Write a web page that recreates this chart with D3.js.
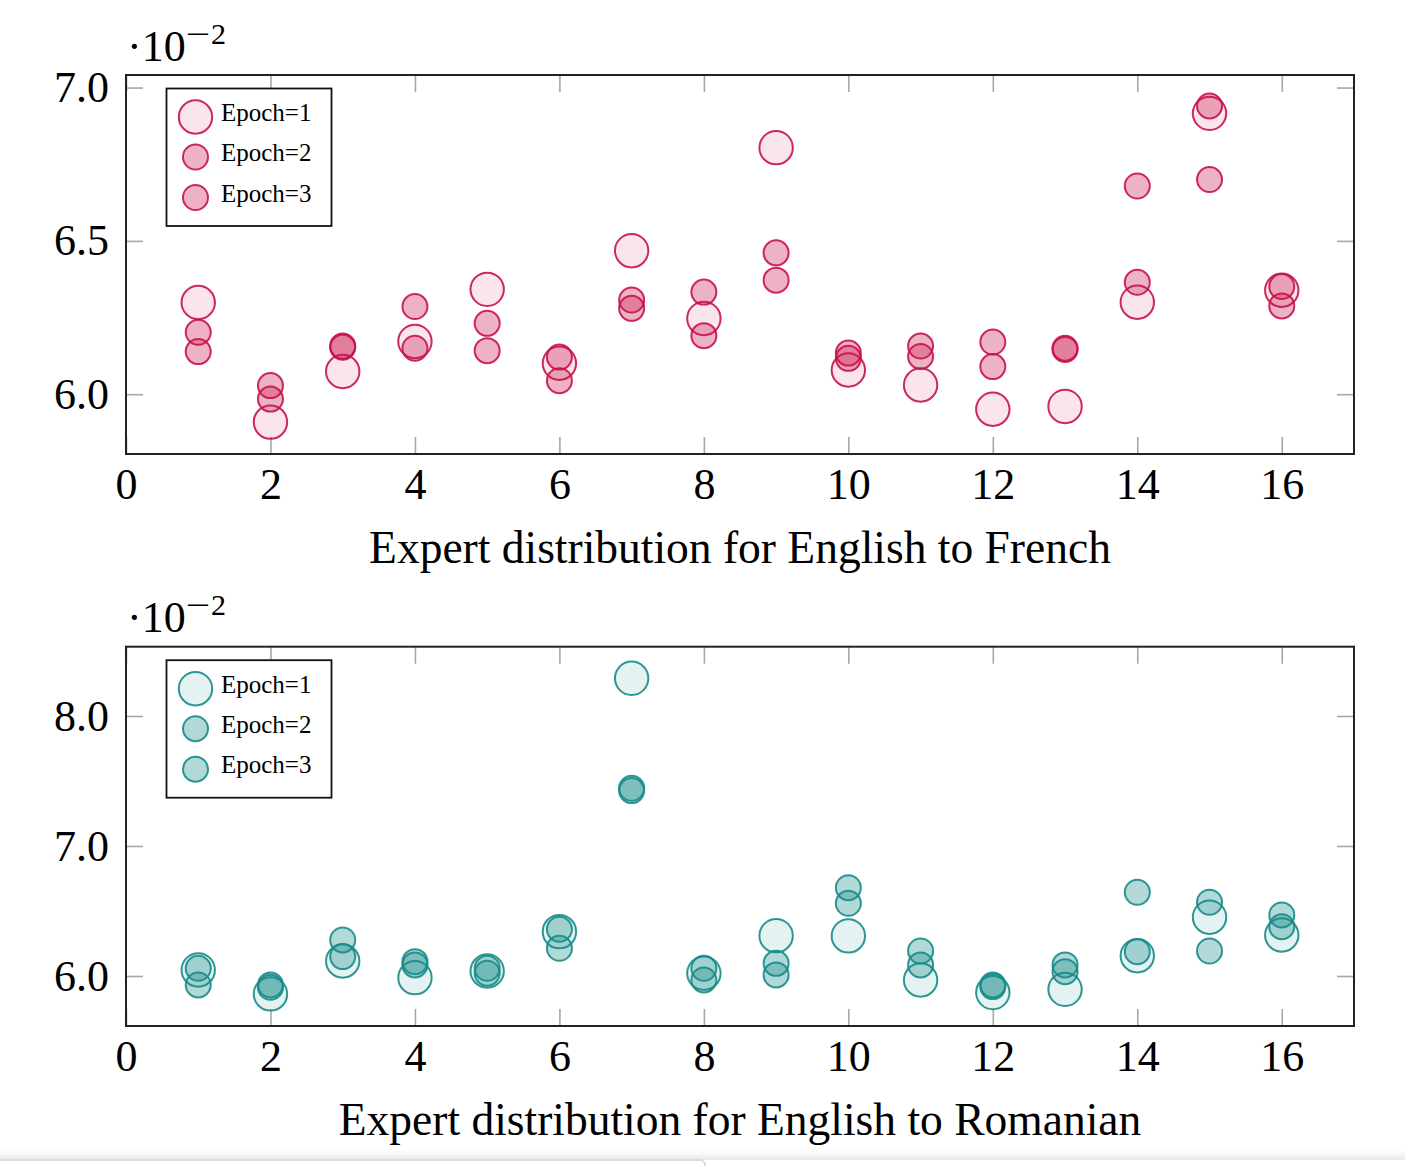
<!DOCTYPE html>
<html>
<head>
<meta charset="utf-8">
<script src="https://cdn.jsdelivr.net/npm/d3@7"></script>
<style>
  html, body { margin: 0; padding: 0; background: #fff; }
  svg { display: block; }
  text { font-family: "Liberation Serif", "Times New Roman", serif; fill: #000; }
</style>
</head>
<body>
<script>
// ---- data (values in units of 1e-2) ----
const experts = [1,2,3,4,5,6,7,8,9,10,11,12,13,14,15,16];
const xTicks = [0,2,4,6,8,10,12,14,16];

const frEpoch1 = [6.299,5.909,6.074,6.172,6.342,6.101,6.468,6.247,6.804,6.079,6.030,5.951,5.960,6.300,6.916,6.339];
const frEpoch2 = [6.202,6.028,6.157,6.286,6.231,6.121,6.307,6.333,6.461,6.134,6.157,6.170,6.150,6.365,6.940,6.351];
const frEpoch3 = [6.139,5.984,6.153,6.150,6.142,6.044,6.280,6.191,6.372,6.117,6.123,6.090,6.146,6.679,6.700,6.288];
const frYTicks = [6.0,6.5,7.0];

const roEpoch1 = [6.046,5.862,6.115,5.987,6.038,6.341,8.290,6.021,6.310,6.308,5.969,5.872,5.897,6.156,6.452,6.315];
const roEpoch2 = [6.059,5.931,6.277,6.110,6.059,6.359,7.444,6.059,6.097,6.679,6.192,5.931,6.085,6.187,6.567,6.469];
const roEpoch3 = [5.931,5.913,6.149,6.085,6.021,6.213,7.426,5.969,6.008,6.559,6.085,5.918,6.033,6.644,6.192,6.379];
const roYTicks = [6.0,7.0,8.0];

const legendLabels = ["Epoch=1","Epoch=2","Epoch=3"];
const exponentBase = "·10";
const exponentMinus = "−";
const exponentDigit = "2";
const frTitle = "Expert distribution for English to French";
const roTitle = "Expert distribution for English to Romanian";

// ---- layout ----
const W = 1405, H = 1166;
const svg = d3.select("body").append("svg").attr("width", W).attr("height", H);

function drawPanel(cfg) {
  const {top, bottom, yDomain, yTicks, series, color, fill1, fill23, title} = cfg;
  const left = 126, right = 1354;
  const x = d3.scaleLinear().domain([0,17]).range([left, right]);
  const y = d3.scaleLinear().domain(yDomain).range([bottom, top]);
  const g = svg.append("g");

  const tickLen = 17;
  const styleTicks = sel => {
    sel.select(".domain").remove();
    sel.selectAll(".tick line").attr("stroke", "#a6a6a6").attr("stroke-width", 1.6);
    sel.selectAll(".tick text").attr("font-size", 44).attr("font-family", "Liberation Serif").attr("fill", "#000");
  };

  g.append("g").attr("transform", `translate(0,${bottom})`)
    .call(d3.axisBottom(x).tickValues(xTicks).tickSizeInner(-tickLen).tickSizeOuter(0).tickPadding(14).tickFormat(d3.format("d")))
    .call(styleTicks);
  g.append("g").attr("transform", `translate(0,${top})`)
    .call(d3.axisTop(x).tickValues(xTicks).tickSizeInner(-tickLen).tickSizeOuter(0).tickFormat(""))
    .call(styleTicks);
  g.append("g").attr("transform", `translate(${left},0)`)
    .call(d3.axisLeft(y).tickValues(yTicks).tickSizeInner(-tickLen).tickSizeOuter(0).tickPadding(17).tickFormat(d3.format(".1f")))
    .call(styleTicks);
  g.append("g").attr("transform", `translate(${right},0)`)
    .call(d3.axisRight(y).tickValues(yTicks).tickSizeInner(-tickLen).tickSizeOuter(0).tickFormat(""))
    .call(styleTicks);

  // points
  const radii = [16.7, 12.5, 12.5];
  const fills = [fill1, fill23, fill23];
  series.forEach((vals, si) => {
    g.append("g").selectAll("circle").data(vals).join("circle")
      .attr("cx", (d, i) => x(experts[i]))
      .attr("cy", d => y(d))
      .attr("r", radii[si])
      .attr("fill", fills[si])
      .attr("stroke", color)
      .attr("stroke-width", 2)
      .attr("stroke-opacity", 0.9);
  });

  // border
  g.append("rect").attr("x", left).attr("y", top).attr("width", right-left).attr("height", bottom-top)
    .attr("fill", "none").attr("stroke", "#222").attr("stroke-width", 2);

  // legend
  const lx = 166.5, ly = top + 13.5, lw = 165, lh = 137.5;
  const lg = g.append("g");
  lg.append("rect").attr("x", lx).attr("y", ly).attr("width", lw).attr("height", lh)
    .attr("fill", "#fff").attr("stroke", "#111").attr("stroke-width", 1.8);
  const rowY = [ly + 28.5, ly + 68.5, ly + 109];
  legendLabels.forEach((lab, i) => {
    lg.append("circle").attr("cx", 195.5).attr("cy", rowY[i]).attr("r", radii[i])
      .attr("fill", fills[i]).attr("stroke", color).attr("stroke-width", 2).attr("stroke-opacity", 0.9);
    lg.append("text").attr("x", 221).attr("y", rowY[i] + 4).attr("font-size", 25).text(lab);
  });

  // exponent label
  const ey = top - 14.5;
  g.append("text").attr("x", 127).attr("y", ey).attr("font-size", 44).text(exponentBase);
  g.append("text").attr("transform", `translate(186,${ey - 17}) scale(1.45,1)`)
    .attr("font-size", 30).text(exponentMinus);
  g.append("text").attr("x", 211).attr("y", ey - 17).attr("font-size", 30).text(exponentDigit);

  // axis title
  g.append("text").attr("x", (left+right)/2).attr("y", bottom + 109).attr("text-anchor", "middle")
    .attr("font-size", 45.5).text(title);
}

drawPanel({
  top: 75, bottom: 454, yDomain: [5.805, 7.041], yTicks: frYTicks,
  series: [frEpoch1, frEpoch2, frEpoch3],
  color: "#c8124a", fill1: "rgba(200,18,74,0.11)", fill23: "rgba(200,18,74,0.32)",
  title: frTitle
});
drawPanel({
  top: 646.7, bottom: 1026, yDomain: [5.615, 8.533], yTicks: roYTicks,
  series: [roEpoch1, roEpoch2, roEpoch3],
  color: "#158c88", fill1: "rgba(21,140,136,0.11)", fill23: "rgba(21,140,136,0.33)",
  title: roTitle
});

// screenshot edge artifact at the bottom
const defs = svg.append("defs");
const grad = defs.append("linearGradient").attr("id", "shadow").attr("x1", 0).attr("y1", 0).attr("x2", 0).attr("y2", 1);
grad.append("stop").attr("offset", "0%").attr("stop-color", "#fff").attr("stop-opacity", 0);
grad.append("stop").attr("offset", "100%").attr("stop-color", "#e6e6e6").attr("stop-opacity", 1);
svg.append("rect").attr("x", 0).attr("y", 1146).attr("width", W).attr("height", 14).attr("fill", "url(#shadow)");
svg.append("rect").attr("x", -10).attr("y", 1160).attr("width", 715).attr("height", 20).attr("rx", 5)
  .attr("fill", "#fff").attr("stroke", "#d4d4d4").attr("stroke-width", 1.5);
</script>
</body>
</html>
